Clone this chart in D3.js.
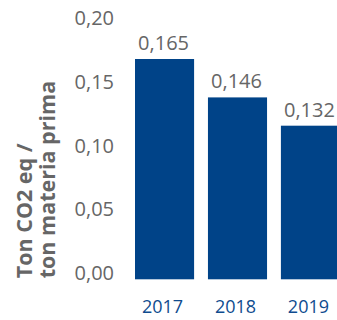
<!DOCTYPE html>
<html>
<head>
<meta charset="utf-8">
<script src="https://cdn.jsdelivr.net/npm/d3@7"></script>
<style>
  html, body { margin: 0; padding: 0; background: #ffffff; }
  svg { display: block; }
</style>
</head>
<body>
<script>
// ---- data ----
const years = ["2017", "2018", "2019"];
const values = [0.165, 0.146, 0.132];
const valueLabels = ["0,165", "0,146", "0,132"];
const tickValues = [0.00, 0.05, 0.10, 0.15, 0.20];
const tickLabels = ["0,00", "0,05", "0,10", "0,15", "0,20"];
const titleLines = ["Ton CO2 eq /", "ton materia prima"];

// ---- layout ----
const W = 337, H = 320;
const grey = "#666666", blue = "#004388", yearBlue = "#0f4c8f";
const font = "'Open Sans', 'Noto Sans', sans-serif";

const svg = d3.select("body").append("svg").attr("width", W).attr("height", H);

const x = d3.scaleBand().domain(years).range([135, 340]).paddingInner(0.19).paddingOuter(0);
// bar scale (the original graphic uses a truncated baseline for the bars)
const yBar = d3.scaleLinear().domain([0.056, 0.165]).range([279.3, 59]);
// axis label scale
const yAxis = d3.scaleLinear().domain([0, 0.20]).range([272.7, 17]);

// bars
svg.append("g").selectAll("rect").data(values).join("rect")
  .attr("x", (d, i) => x(years[i]))
  .attr("width", x.bandwidth())
  .attr("y", d => yBar(d))
  .attr("height", d => yBar.range()[0] - yBar(d))
  .attr("fill", blue);

// value labels
svg.append("g").selectAll("text").data(values).join("text")
  .attr("x", (d, i) => x(years[i]) + x.bandwidth() / 2 - 1)
  .attr("y", d => yBar(d) - 9)
  .attr("text-anchor", "middle")
  .attr("font-family", font).attr("font-size", 20).attr("fill", grey)
  .text((d, i) => valueLabels[i]);

// year labels
svg.append("g").selectAll("text").data(years).join("text")
  .attr("x", d => x(d) + x.bandwidth() / 2 - 2)
  .attr("y", 313)
  .attr("text-anchor", "middle")
  .attr("font-family", font).attr("font-size", 18).attr("font-weight", 500)
  .attr("fill", yearBlue)
  .text(d => d);

// y axis tick labels
const axis = d3.axisLeft(yAxis).tickValues(tickValues)
  .tickFormat((d, i) => tickLabels[i]).tickSize(0).tickPadding(0);
const ag = svg.append("g").attr("transform", "translate(114,0)").call(axis);
ag.select(".domain").remove();
ag.selectAll("text").attr("font-family", font).attr("font-size", 20)
  .attr("fill", grey).attr("dy", "0.36em");

// y title
const title = svg.append("text")
  .attr("transform", "translate(31.7,278.3) rotate(-90)")
  .attr("font-family", font).attr("font-size", 21.5).attr("font-weight", "bold")
  .attr("fill", grey);
titleLines.forEach((t, i) => {
  title.append("tspan").attr("x", 0).attr("y", i * 23.3).text(t);
});
</script>
</body>
</html>
